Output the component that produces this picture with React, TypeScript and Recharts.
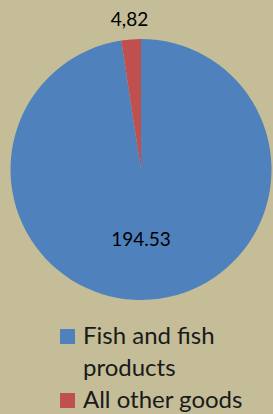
import { Cell, Legend, Pie, PieChart } from "recharts";

const categories = ["Fish and fish products", "All other goods"];
const values = [194.53, 4.82];
const valueLabels = ["194.53", "4,82"];
const colors = ["#4F81BD", "#C0504D"];

const BG = "#C4BD97";
const FONT = "Lato, 'Liberation Sans', sans-serif";

const data = categories.map((name, i) => ({ name, value: values[i] }));

const RADIAN = Math.PI / 180;

function renderLabel(props: any) {
  const { cx, cy, midAngle, outerRadius, index } = props;
  let x: number;
  let y: number;
  if (index === 0) {
    // big slice: label sits inside, below the centre
    x = cx;
    y = cy + outerRadius * 0.53;
  } else {
    // small slice: label just outside the rim
    const r = outerRadius + 20.5;
    x = cx + r * Math.cos(-midAngle * RADIAN);
    y = cy + r * Math.sin(-midAngle * RADIAN);
  }
  return (
    <text
      x={x}
      y={y}
      textAnchor="middle"
      dominantBaseline="central"
      fill="#000"
      fontSize={19}
      fontFamily={FONT}
    >
      {valueLabels[index]}
    </text>
  );
}

// legend keeps the series order (Recharts would sort it by name)
function LegendBox() {
  return (
    <div style={{ fontFamily: FONT, fontSize: 24, lineHeight: "32px", color: "#1a1a1a" }}>
      {categories.map((name, i) => (
        <div key={name} style={{ display: "flex", alignItems: "flex-start" }}>
          <span
            style={{
              display: "inline-block",
              width: 15,
              height: 15,
              marginTop: 10.5,
              marginRight: 8,
              background: colors[i],
              flex: "none",
            }}
          />
          <span style={{ width: 180 }}>{name}</span>
        </div>
      ))}
    </div>
  );
}

export default function App() {
  return (
    <div
      style={{
        position: "fixed",
        left: 0,
        top: 0,
        width: 273,
        height: 414,
        background: BG,
        overflow: "hidden",
      }}
    >
      <PieChart width={273} height={414} margin={{ top: 0, right: 0, bottom: 0, left: 0 }}>
        <Pie
          data={data}
          dataKey="value"
          nameKey="name"
          cx={141}
          cy={169.5}
          outerRadius={130.5}
          startAngle={90}
          endAngle={-270}
          stroke="none"
          label={renderLabel}
          labelLine={false}
          isAnimationActive={false}
        >
          {data.map((_, i) => (
            <Cell key={i} fill={colors[i]} />
          ))}
        </Pie>
        <Legend
          content={<LegendBox />}
          wrapperStyle={{ position: "absolute", left: 60, top: 318.5, width: 213, bottom: "auto" }}
        />
      </PieChart>
    </div>
  );
}
